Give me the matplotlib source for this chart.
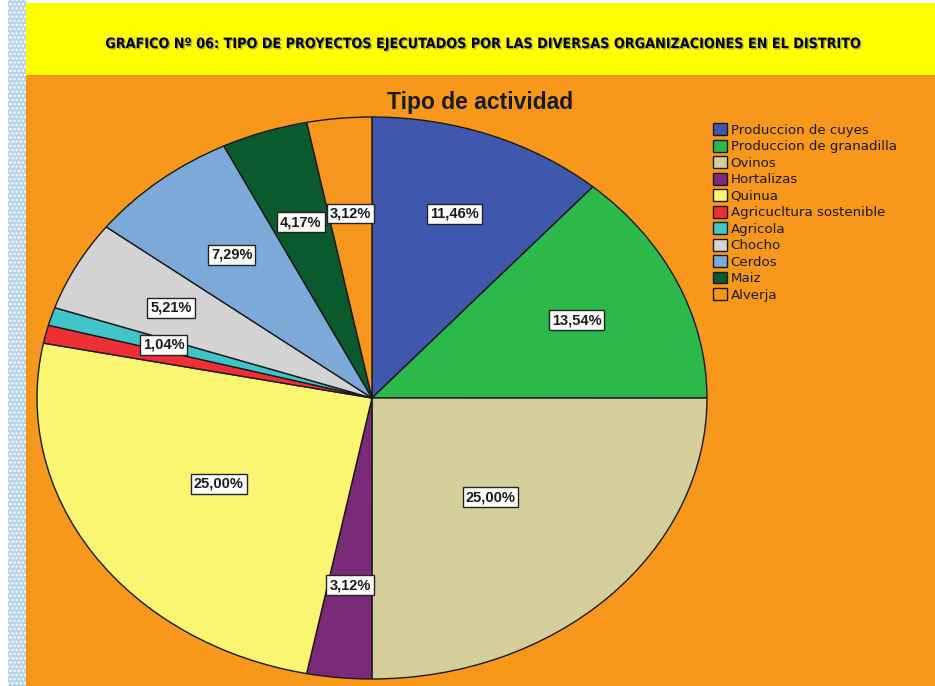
import numpy as np
import matplotlib
matplotlib.use('Agg')
import matplotlib.pyplot as plt
from matplotlib.patches import Rectangle
import matplotlib.patheffects as pe

# Data
categorias = ['Produccion de cuyes', 'Produccion de granadilla', 'Ovinos', 'Hortalizas',
              'Quinua', 'Agricucltura sostenible', 'Agricola', 'Chocho', 'Cerdos',
              'Maiz', 'Alverja']
porcentajes = [11.46, 13.54, 25.00, 3.12, 25.00, 1.04, 1.04, 5.21, 7.29, 4.17, 3.12]
mostrar_etiqueta = [True, True, True, True, True, False, True, True, True, True, True]

colores = ['#3F58AD', '#2DB84B', '#D4CF9A', '#7B2A7A', '#FAF671', '#EE3035',
           '#3FC5C8', '#D3D3D3', '#7DA9D8', '#0B5A2E', '#F7961E']
dist_etiqueta = [0.70, 0.67, 0.50, 0.67, 0.55, 0.65, 0.65, 0.68, 0.66, 0.66, 0.66]

ORANGE = '#F7981D'

fig = plt.figure(figsize=(9.35, 6.86), dpi=100)
fig.patch.set_facecolor('white')
W, H = 935, 686

def rect(x0, y0, x1, y1, **kw):
    fig.patches.append(Rectangle((x0 / W, 1 - y1 / H), (x1 - x0) / W, (y1 - y0) / H,
                                 transform=fig.transFigure, figure=fig, zorder=-10, **kw))

# background pieces
rect(8, 0, 26, H, facecolor='#B9D3EE', edgecolor='white', hatch='....', linewidth=0)
rect(26, 3, W, 75, facecolor='#FFFF00', edgecolor='none')
rect(26, 75, W, H, facecolor=ORANGE, edgecolor='none')

titulo = fig.text(482 / W, 1 - 44 / H,
                  'GRAFICO Nº 06: TIPO DE PROYECTOS EJECUTADOS POR LAS DIVERSAS ORGANIZACIONES EN EL DISTRITO',
                  ha='center', va='center', fontsize=13, fontweight='bold', fontstretch='condensed',
                  family=['DejaVu Sans'],
                  path_effects=[pe.withSimplePatchShadow(offset=(1, -1), shadow_rgbFace='#777777', alpha=0.6)])
# shrink the banner title until it fits the reference width
r = fig.canvas.get_renderer()
while titulo.get_window_extent(r).width > 762 and titulo.get_fontsize() > 6:
    titulo.set_fontsize(titulo.get_fontsize() - 0.25)

fig.text(480 / W, 1 - 102 / H, 'Tipo de actividad', ha='center', va='center',
         fontsize=16.5, fontweight='bold', family=['Liberation Sans', 'DejaVu Sans'], color='#1a1a1a')

# Pie (elliptical)
cx, cy, rx, ry = 372, 398, 335, 281
ax = fig.add_axes([(cx - rx) / W, 1 - (cy + ry) / H, 2 * rx / W, 2 * ry / H])
ax.patch.set_alpha(0)
wedges, _ = ax.pie(porcentajes, colors=colores, startangle=90, counterclock=False,
                   radius=1, wedgeprops=dict(edgecolor='#1a1a1a', linewidth=1.0))
ax.set_aspect('auto')
ax.set_xlim(-1, 1)
ax.set_ylim(-1, 1)
ax.axis('off')

for w, v, d, show in zip(wedges, porcentajes, dist_etiqueta, mostrar_etiqueta):
    if not show:
        continue
    ang = np.deg2rad((w.theta1 + w.theta2) / 2)
    ax.text(d * np.cos(ang), d * np.sin(ang), f'{v:.2f}'.replace('.', ',') + '%',
            ha='center', va='center', fontsize=10.5, fontweight='bold',
            family=['Liberation Sans', 'DejaVu Sans'], color='#1a1a1a',
            bbox=dict(boxstyle='square,pad=0.2', facecolor='white', edgecolor='#222222', linewidth=1))

leg = fig.legend(wedges, categorias, loc='upper left', bbox_to_anchor=(708 / W, 1 - 118 / H),
                 frameon=False, handlelength=1.0, handleheight=1.0,
                 handletextpad=0.3, labelspacing=0.22, borderaxespad=0,
                 prop={'family': ['DejaVu Sans'], 'size': 9.6})
for t in leg.get_texts():
    t.set_color('#1a1a1a')

fig.savefig('out.png', dpi=100, facecolor=fig.get_facecolor())
